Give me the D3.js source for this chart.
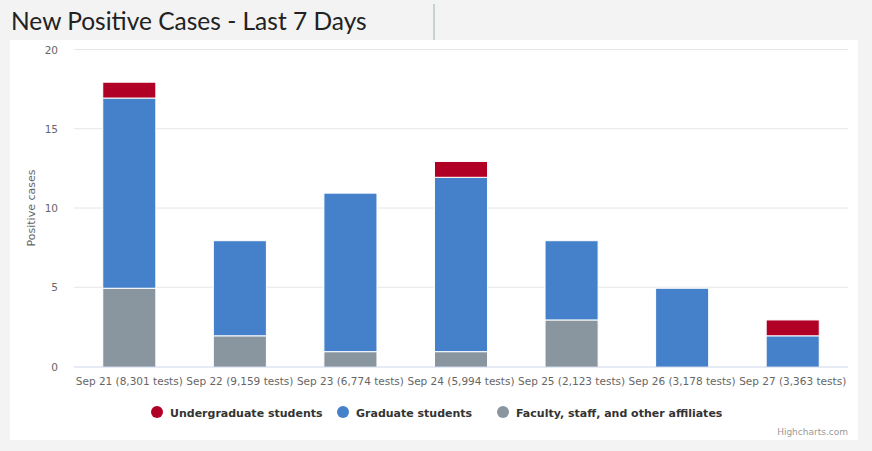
<!DOCTYPE html>
<html>
<head>
<meta charset="utf-8">
<script src="https://cdn.jsdelivr.net/npm/d3@7"></script>
<style>
  body { margin: 0; background: #f2f3f2; }
  svg { display: block; }
</style>
</head>
<body>
<div id="chart"></div>
<script>
const days = ['Sep 21', 'Sep 22', 'Sep 23', 'Sep 24', 'Sep 25', 'Sep 26', 'Sep 27']
const tests = ['8,301', '9,159', '6,774', '5,994', '2,123', '3,178', '3,363']
const undergrad = [1, 0, 0, 1, 0, 0, 1]
const graduate = [12, 6, 10, 11, 5, 5, 2]
const faculty = [5, 2, 1, 1, 3, 0, 0]
const yTicks = [0, 5, 10, 15, 20]

const seriesNames = ['Undergraduate students', 'Graduate students', 'Faculty, staff, and other affiliates']
const colors = ['#b10026', '#4581ca', '#8996a0']

const width = 872, height = 451
const margin = {left: 74, right: 24, top: 49.5, bottom: 84.5}

const svg = d3.select('#chart').append('svg')
    .attr('width', width)
    .attr('height', height)

// background panel
svg.append('rect').attr('x', 0).attr('y', 0).attr('width', width).attr('height', height).attr('fill', '#f2f3f2')
svg.append('rect').attr('x', 10).attr('y', 40).attr('width', 848).attr('height', 400).attr('fill', '#fff')
svg.append('rect').attr('x', 433).attr('y', 4).attr('width', 2).attr('height', 36).attr('fill', '#c4d3d3')

svg.append('text')
    .attr('x', 11).attr('y', 30)
    .style('font-family', 'Lato, "Liberation Sans", sans-serif')
    .style('font-size', '24.5px')
    .style('fill', '#222')
    .text('New Positive Cases - Last 7 Days')

const x = d3.scaleBand()
    .domain(days)
    .range([margin.left, width - margin.right])
    .paddingInner(0.52).paddingOuter(0.26)

const y = d3.scaleLinear()
    .domain([0, 20])
    .range([height - margin.bottom, margin.top])

// gridlines
svg.append('g').selectAll('line')
    .data(yTicks.filter(d => d > 0))
    .enter().append('line')
    .attr('x1', margin.left).attr('x2', width - margin.right)
    .attr('y1', d => y(d)).attr('y2', d => y(d))
    .attr('stroke', '#e6e6e6')

// y labels
svg.append('g').selectAll('text')
    .data(yTicks)
    .enter().append('text')
    .attr('x', 58).attr('y', d => y(d) + 4)
    .attr('text-anchor', 'end')
    .style('font-family', '"DejaVu Sans", sans-serif')
    .style('font-size', '10.5px')
    .style('fill', '#666')
    .text(d => d)

svg.append('text')
    .attr('transform', `translate(35,${y(10)}) rotate(-90)`)
    .attr('text-anchor', 'middle')
    .style('font-family', '"DejaVu Sans", sans-serif')
    .style('font-size', '11px')
    .style('fill', '#666')
    .text('Positive cases')

// stacked data: faculty bottom, then graduate, then undergrad
const rows = days.map((d, i) => ({day: d, faculty: faculty[i], graduate: graduate[i], undergrad: undergrad[i]}))
const keys = ['faculty', 'graduate', 'undergrad']
const keyColor = {faculty: colors[2], graduate: colors[1], undergrad: colors[0]}
const stacked = d3.stack().keys(keys)(rows)

svg.append('g').selectAll('g')
    .data(stacked)
    .enter().append('g')
    .attr('fill', d => keyColor[d.key])
    .selectAll('rect')
    .data(d => d.filter(s => s[1] > s[0]))
    .enter().append('rect')
    .attr('x', d => x(d.data.day))
    .attr('width', x.bandwidth())
    .attr('y', d => y(d[1]) + 1)
    .attr('height', d => y(d[0]) - y(d[1]))
    .attr('stroke', '#fff')
    .attr('stroke-width', 1)

// x axis line
svg.append('line')
    .attr('x1', margin.left).attr('x2', width - margin.right)
    .attr('y1', y(0) + 0.5).attr('y2', y(0) + 0.5)
    .attr('stroke', '#ccd6eb')

svg.append('g').selectAll('text')
    .data(days)
    .enter().append('text')
    .attr('x', d => x(d) + x.bandwidth() / 2)
    .attr('y', 385)
    .attr('text-anchor', 'middle')
    .style('font-family', '"DejaVu Sans", sans-serif')
    .style('font-size', '10.5px')
    .style('fill', '#666')
    .text((d, i) => `${d} (${tests[i]} tests)`)

// legend
const legendX = [157, 343, 503]
const legend = svg.append('g').selectAll('g')
    .data(seriesNames)
    .enter().append('g')
    .attr('transform', (d, i) => `translate(${legendX[i]},412)`)
legend.append('circle').attr('r', 6).attr('fill', (d, i) => colors[i])
legend.append('text')
    .attr('x', 13).attr('y', 4.5)
    .style('font-family', '"DejaVu Sans", sans-serif')
    .style('font-size', '11px')
    .style('font-weight', 'bold')
    .style('fill', '#333')
    .text(d => d)

svg.append('text')
    .attr('x', 848).attr('y', 435)
    .attr('text-anchor', 'end')
    .style('font-family', '"DejaVu Sans", sans-serif')
    .style('font-size', '9px')
    .style('fill', '#999')
    .text('Highcharts.com')
</script>
</body>
</html>
